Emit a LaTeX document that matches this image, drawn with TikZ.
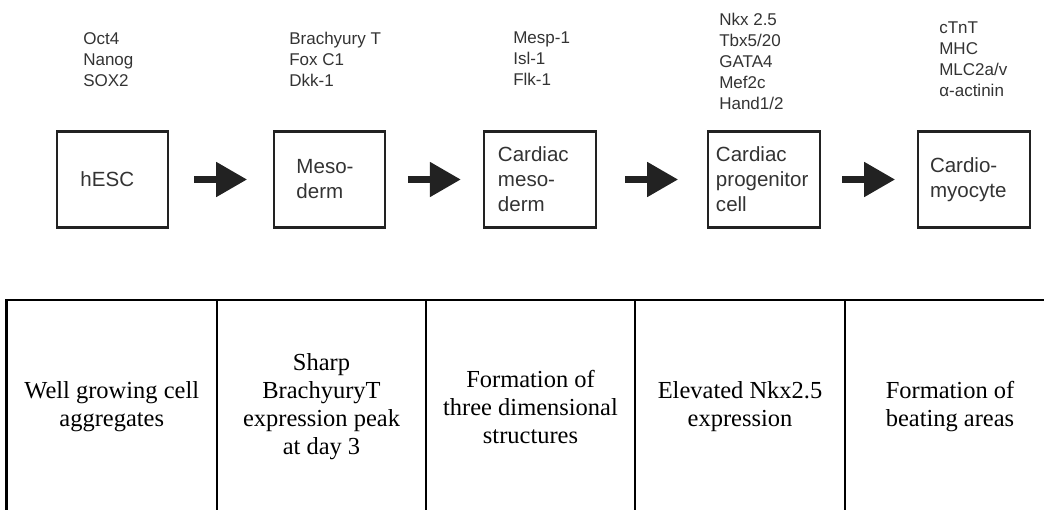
\documentclass[tikz,border=0pt]{standalone}
\usepackage{fontspec}
\setmainfont{Liberation Serif}
\setsansfont{Liberation Sans}
\usetikzlibrary{arrows.meta,calc}
\definecolor{ink}{HTML}{222222}
\definecolor{marktext}{HTML}{333333}

\begin{document}
\begin{tikzpicture}[
		x=0.025cm, y=-0.025cm,
		stage/.style={draw=ink, line width=1.5pt, minimum width=2.78cm, minimum height=2.4cm,
			inner sep=0pt, align=left, text=marktext, font=\sffamily\fontsize{14.6}{17.8}\selectfont},
		markers/.style={anchor=north west, inner sep=0pt, align=left, text=marktext,
			font=\sffamily\fontsize{12.1}{14.9}\selectfont},
		flow/.style={ink, line width=4.3pt, -{Triangle[length=22pt, width=24pt]}},
		cell/.style={align=center, font=\fontsize{17.4}{19.9}\selectfont},
		tablerule/.style={line width=1.9pt}
	]
	\useasboundingbox (0,0) rectangle (1044,510);

	% Stages
	\node[stage, text width=1.6cm] (hesc) at (112.5,179.5) {hESC};
	\node[stage, text width=1.65cm] (meso) at (329.5,179.5) {Meso-\\derm};
	\node[stage, text width=2.1cm] (cmeso) at (540,179.5) {Cardiac\\meso-\\derm};
	\node[stage, text width=2.4cm] (prog) at (764,179.5) {Cardiac\\progenitor\\cell};
	\node[stage, text width=2.2cm] (cmyo) at (974,179.5) {Cardio-\\myocyte};

	% Markers
	\node[markers] (hescmark) at (83,32) {Oct4\\Nanog\\SOX2};
	\node[markers] (mesomark) at (289,32) {Brachyury T\\Fox C1\\Dkk-1};
	\node[markers] (cmesomark) at (513,32) {Mesp-1\\Isl-1\\Flk-1};
	\node[markers] (progmark) at (719,13) {Nkx 2.5\\Tbx5/20\\GATA4\\Mef2c\\Hand1/2};
	\node[markers] (cmyomark) at (939,22) {cTnT\\MHC\\MLC2a/v\\α-actinin};

	% Arrows
	\foreach \a/\b in {hesc/meso, meso/cmeso, cmeso/prog, prog/cmyo}
		\draw[flow] ($(\a.east)!0.5!(\b.west)+(-27,0)$) -- ($(\a.east)!0.5!(\b.west)+(26,0)$);

	% Table
	\draw[tablerule] (6.5,510) |- (1044,300);
	\foreach \x in {217,426,635,845}
		\draw[tablerule] (\x,300) -- (\x,510);

	\node[cell] (aggr) at (111.75,407) {Well growing cell\\aggregates};
	\node[cell] (peak) at (321.5,407) {Sharp\\BrachyuryT\\expression peak\\at day 3};
	\node[cell] (threed) at (530.5,407) {Formation of\\three dimensional\\structures};
	\node[cell] (nkx) at (740,407) {Elevated Nkx2.5\\expression};
	\node[cell] (beat) at (950,407) {Formation of\\beating areas};
\end{tikzpicture}
\end{document}
